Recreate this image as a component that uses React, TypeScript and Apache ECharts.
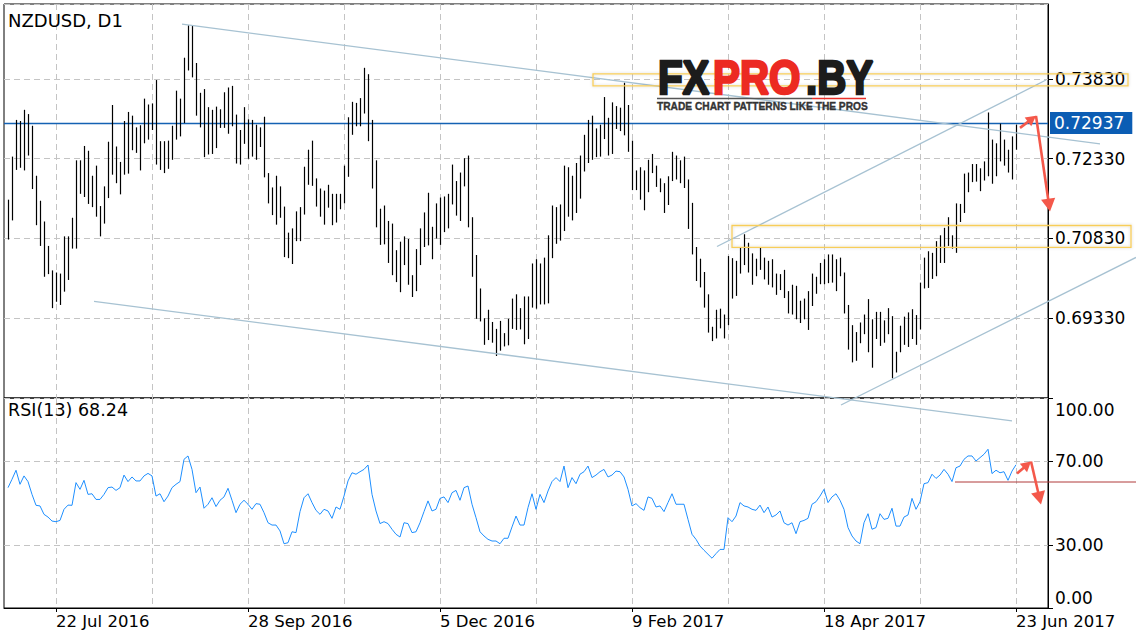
import React, { useEffect, useRef } from 'react';
import * as echarts from 'echarts';

// ---- data (daily bars, high / low) ----
const barHigh = [
  0.7156, 0.7237, 0.7306, 0.7304, 0.7325, 0.7317, 0.7295, 0.7201, 0.7154, 0.7115,
  0.7069, 0.7023, 0.7019, 0.7017, 0.7087, 0.7087, 0.7122, 0.7230, 0.7230, 0.7257,
  0.7248, 0.7201, 0.7220, 0.7144, 0.7181, 0.7265, 0.7334, 0.7256, 0.7227, 0.7304,
  0.7321, 0.7314, 0.7292, 0.7296, 0.7346, 0.7335, 0.7337, 0.7381, 0.7266, 0.7266,
  0.7267, 0.7295, 0.7361, 0.7346, 0.7423, 0.7484, 0.7483, 0.7413, 0.7357, 0.7364,
  0.7330, 0.7325, 0.7331, 0.7326, 0.7358, 0.7367, 0.7370, 0.7316, 0.7287, 0.7330,
  0.7307, 0.7306, 0.7297, 0.7292, 0.7312, 0.7206, 0.7179, 0.7201, 0.7181, 0.7143,
  0.7094, 0.7102, 0.7134, 0.7142, 0.7218, 0.7250, 0.7267, 0.7196, 0.7177, 0.7173,
  0.7184, 0.7167, 0.7167, 0.7167, 0.7220, 0.7311, 0.7340, 0.7338, 0.7347, 0.7404,
  0.7392, 0.7306, 0.7230, 0.7139, 0.7145, 0.7116, 0.7111, 0.7061, 0.7077, 0.7087,
  0.7082, 0.7014, 0.7063, 0.7102, 0.7132, 0.7169, 0.7105, 0.7149, 0.7160, 0.7162,
  0.7167, 0.7222, 0.7191, 0.7207, 0.7234, 0.7239, 0.7123, 0.7052, 0.6989, 0.6933,
  0.6949, 0.6926, 0.6913, 0.6928, 0.6905, 0.6932, 0.6970, 0.6978, 0.6952, 0.6974,
  0.6974, 0.7036, 0.7044, 0.7036, 0.7047, 0.7089, 0.7145, 0.7142, 0.7147, 0.7220,
  0.7217, 0.7201, 0.7225, 0.7239, 0.7278, 0.7306, 0.7314, 0.7290, 0.7297, 0.7349,
  0.7310, 0.7339, 0.7332, 0.7329, 0.7376, 0.7334, 0.7267, 0.7211, 0.7217, 0.7211,
  0.7231, 0.7242, 0.7220, 0.7196, 0.7187, 0.7200, 0.7246, 0.7239, 0.7230, 0.7237,
  0.7194, 0.7150, 0.7067, 0.7045, 0.7020, 0.6978, 0.6917, 0.6949, 0.6951, 0.6940,
  0.7050, 0.7046, 0.7041, 0.7067, 0.7091, 0.7075, 0.7055, 0.7045, 0.7067, 0.7047,
  0.7041, 0.7044, 0.7017, 0.7016, 0.7024, 0.6984, 0.6996, 0.6994, 0.6966, 0.6970,
  0.6984, 0.7017, 0.7011, 0.7037, 0.7044, 0.7053, 0.7053, 0.7044, 0.7047, 0.7019,
  0.6958, 0.6920, 0.6907, 0.6925, 0.6940, 0.6969, 0.6931, 0.6945, 0.6945, 0.6929,
  0.6952, 0.6937, 0.6870, 0.6919, 0.6936, 0.6944, 0.6950, 0.6939, 0.7000, 0.7047,
  0.7059, 0.7056, 0.7078, 0.7089, 0.7103, 0.7123, 0.7089, 0.7149, 0.7148, 0.7205,
  0.7207, 0.7223, 0.7223, 0.7215, 0.7228, 0.7320, 0.7269, 0.7262, 0.7299, 0.7269,
  0.7250, 0.7275, 0.7297,
];
const barLow = [
  0.7081, 0.7117, 0.7212, 0.7216, 0.7211, 0.7239, 0.7176, 0.7108, 0.7069, 0.7011,
  0.7016, 0.6952, 0.6964, 0.6958, 0.6983, 0.7005, 0.7064, 0.7064, 0.7167, 0.7161,
  0.7148, 0.7142, 0.7124, 0.7087, 0.7111, 0.7159, 0.7203, 0.7187, 0.7166, 0.7203,
  0.7205, 0.7249, 0.7244, 0.7211, 0.7262, 0.7269, 0.7287, 0.7222, 0.7212, 0.7206,
  0.7214, 0.7231, 0.7269, 0.7275, 0.7300, 0.7399, 0.7386, 0.7314, 0.7292, 0.7236,
  0.7241, 0.7242, 0.7253, 0.7291, 0.7291, 0.7280, 0.7294, 0.7224, 0.7222, 0.7261,
  0.7233, 0.7237, 0.7231, 0.7255, 0.7198, 0.7149, 0.7127, 0.7109, 0.7122, 0.7048,
  0.7046, 0.7035, 0.7078, 0.7078, 0.7128, 0.7184, 0.7182, 0.7143, 0.7124, 0.7109,
  0.7141, 0.7108, 0.7113, 0.7138, 0.7149, 0.7199, 0.7278, 0.7294, 0.7294, 0.7318,
  0.7266, 0.7177, 0.7104, 0.7071, 0.7072, 0.7037, 0.7014, 0.7001, 0.6982, 0.7033,
  0.6996, 0.6973, 0.6984, 0.7033, 0.7067, 0.7070, 0.7044, 0.7083, 0.7071, 0.7095,
  0.7102, 0.7147, 0.7126, 0.7116, 0.7181, 0.7104, 0.7011, 0.6932, 0.6927, 0.6883,
  0.6892, 0.6887, 0.6862, 0.6872, 0.6880, 0.6882, 0.6913, 0.6911, 0.6912, 0.6884,
  0.6894, 0.6953, 0.6951, 0.6959, 0.6959, 0.6961, 0.7046, 0.7073, 0.7079, 0.7097,
  0.7124, 0.7117, 0.7131, 0.7158, 0.7209, 0.7225, 0.7231, 0.7236, 0.7237, 0.7270,
  0.7239, 0.7242, 0.7289, 0.7285, 0.7277, 0.7246, 0.7174, 0.7174, 0.7156, 0.7136,
  0.7170, 0.7206, 0.7180, 0.7170, 0.7131, 0.7146, 0.7191, 0.7194, 0.7187, 0.7178,
  0.7101, 0.7053, 0.7003, 0.6991, 0.6953, 0.6906, 0.6890, 0.6895, 0.6914, 0.6895,
  0.6920, 0.6970, 0.6975, 0.7017, 0.7033, 0.7019, 0.6996, 0.7012, 0.7024, 0.7006,
  0.6996, 0.6991, 0.6977, 0.6986, 0.6971, 0.6942, 0.6940, 0.6931, 0.6924, 0.6931,
  0.6911, 0.6956, 0.6979, 0.6997, 0.6997, 0.6999, 0.7000, 0.6984, 0.7012, 0.6942,
  0.6874, 0.6850, 0.6853, 0.6886, 0.6903, 0.6869, 0.6840, 0.6894, 0.6881, 0.6887,
  0.6903, 0.6820, 0.6831, 0.6869, 0.6883, 0.6879, 0.6894, 0.6883, 0.6912, 0.6989,
  0.6990, 0.7007, 0.7012, 0.7037, 0.7037, 0.7069, 0.7064, 0.7056, 0.7114, 0.7131,
  0.7170, 0.7189, 0.7190, 0.7172, 0.7192, 0.7200, 0.7186, 0.7200, 0.7228, 0.7220,
  0.7207, 0.7194, 0.7250,
];
const rsi13 = [
  57.3, 61.3, 65.6, 58.9, 62.9, 60.2, 54.1, 48.9, 48.6, 44.6,
  43.3, 41.4, 41.1, 41.7, 47.0, 49.0, 48.9, 59.7, 56.5, 60.8,
  54.1, 54.4, 51.7, 51.7, 54.1, 57.3, 57.6, 56.0, 57.3, 63.3,
  60.2, 62.4, 60.5, 60.5, 62.9, 64.1, 62.9, 53.3, 54.4, 50.6,
  53.3, 57.3, 58.9, 60.2, 70.8, 72.4, 66.0, 54.9, 57.6, 47.5,
  49.4, 52.5, 48.3, 51.3, 52.9, 57.0, 51.3, 45.4, 49.4, 51.3,
  49.4, 47.0, 49.7, 49.4, 45.4, 40.6, 39.5, 39.5, 36.7, 30.6,
  31.1, 36.3, 35.9, 45.9, 52.5, 54.4, 50.2, 46.5, 44.6, 47.0,
  46.2, 42.7, 48.1, 47.0, 53.3, 60.5, 64.4, 63.7, 64.9, 66.0,
  68.1, 54.1, 46.2, 40.2, 41.1, 40.2, 37.5, 35.1, 33.8, 40.6,
  40.2, 35.9, 36.3, 40.6, 45.9, 51.0, 46.2, 47.0, 52.2, 52.9,
  50.2, 54.9, 56.0, 51.3, 57.3, 58.1, 49.4, 43.0, 36.3, 34.3,
  32.7, 31.9, 31.9, 30.6, 33.2, 33.2, 38.6, 43.8, 39.5, 39.5,
  47.8, 54.4, 47.0, 54.1, 50.2, 55.7, 60.2, 62.1, 60.2, 67.6,
  57.3, 62.1, 59.2, 63.7, 64.9, 67.6, 62.1, 63.3, 64.9, 66.0,
  62.4, 63.3, 65.2, 64.9, 62.4, 56.5, 48.6, 49.7, 47.8, 46.5,
  52.9, 52.2, 48.1, 48.6, 45.9, 50.2, 54.4, 49.4, 49.4, 49.4,
  42.2, 35.1, 32.7, 29.5, 27.5, 25.6, 23.7, 25.9, 27.9, 27.9,
  43.0, 41.1, 43.8, 50.2, 48.6, 48.1, 47.0, 46.5, 49.0, 45.4,
  48.1, 43.3, 44.3, 46.2, 40.6, 39.5, 40.6, 35.4, 41.1, 41.7,
  42.7, 49.4, 50.6, 53.3, 56.5, 50.2, 52.9, 54.4, 51.3, 47.0,
  38.3, 34.3, 31.9, 30.6, 40.6, 44.9, 37.5, 38.3, 44.9, 42.2,
  42.7, 47.5, 39.0, 39.0, 43.3, 44.3, 52.2, 47.0, 50.6, 59.2,
  59.7, 63.7, 61.7, 63.3, 66.0, 63.7, 60.2, 66.8, 67.6, 70.8,
  72.4, 72.4, 70.0, 71.6, 73.2, 75.6, 64.0, 65.6, 64.4, 64.9,
  60.8, 65.2, 68.2,
];

const dateTickBars = [12, 60, 108, 156, 204, 252];
const dateTickLabels = ['22 Jul 2016', '28 Sep 2016', '5 Dec 2016', '9 Feb 2017', '18 Apr 2017', '23 Jun 2017'];
const lastPrice = 0.72937;
const lastRsi = 68.24;
const rsiGuideLevels = [30, 70];
const rsiAxisLabels = [0, 30, 70, 100];

// annotations in (bar index, value) space
const channelUpper = [[43.5, 0.74861], [273, 0.72611]];
const channelLower = [[21.5, 0.69649], [251, 0.67399]];
const risingUpper = [[177.25, 0.7068], [259.5, 0.73811]];
const risingLower = [[208.25, 0.67699], [282, 0.70474]];
const zoneTop = [[146.25, 0.73924], [280, 0.73699]];
const zoneLow = [[181, 0.71074], [280.75, 0.70661]];
const priceArrowPath = [[253, 0.72911], [257, 0.73136], [260.5, 0.71336]];
const rsiArrowPath = [[252.25, 64.0], [255.75, 69.8], [258.25, 49.3]];
const rsiSignalLine = [[236.75, 60], [282, 60]];

const FONT = 'DejaVu Sans';
const LOGO_FONT = '"Liberation Sans", Arial, sans-serif';
const SLOTS = barHigh.length + 9;
const GRID_STEP = 24;

export default function App() {
  const ref = useRef<HTMLDivElement>(null);

  useEffect(() => {
    const el = ref.current;
    if (!el) return;
    const chart = echarts.init(el, null, { renderer: 'svg' });
    const cats = Array.from({ length: SLOTS }, (_, k) => String(k));
    const labelAt = new Map<number, string>(dateTickBars.map((b, j) => [b + 1, dateTickLabels[j]]));
    const isGridSlot = (k: number) => k - 1 >= dateTickBars[0] && (k - 1 - dateTickBars[0]) % GRID_STEP === 0;
    const dash = { type: [6, 4] as any, color: '#c4c4c4', width: 1 };

    const option: any = {
      animation: false,
      backgroundColor: '#ffffff',
      grid: [
        { left: 4, top: 4, width: 1044, height: 394, show: true, borderColor: '#000', borderWidth: 1 },
        { left: 4, top: 398, width: 1044, height: 210, show: true, borderColor: '#000', borderWidth: 1 },
      ],
      xAxis: [
        {
          type: 'category', gridIndex: 0, data: cats, boundaryGap: false,
          axisLine: { show: false }, axisTick: { show: false }, axisLabel: { show: false },
          splitLine: { show: true, interval: (idx: number) => isGridSlot(idx), lineStyle: dash },
        },
        {
          type: 'category', gridIndex: 1, data: cats, boundaryGap: false,
          axisLine: { show: true, lineStyle: { color: '#000', width: 1 } },
          axisTick: { show: true, interval: (idx: number) => labelAt.has(idx), length: 4, lineStyle: { color: '#000' } },
          axisLabel: {
            show: true, interval: (idx: number) => labelAt.has(idx),
            formatter: (_v: string, idx: number) => labelAt.get(idx) ?? '',
            align: 'left', margin: 5, fontFamily: FONT, fontSize: 16.5, color: '#000',
          },
          splitLine: { show: true, interval: (idx: number) => isGridSlot(idx), lineStyle: dash },
        },
      ],
      yAxis: [
        {
          type: 'value', gridIndex: 0, position: 'right',
          min: 0.6783, max: 0.7524, interval: 0.015,
          axisLine: { show: true, lineStyle: { color: '#000', width: 1 } },
          axisTick: { show: true, length: 5, lineStyle: { color: '#000' } },
          axisLabel: {
            showMinLabel: false, showMaxLabel: false,
            formatter: (v: number) => v.toFixed(5),
            margin: 7, fontFamily: FONT, fontSize: 17, color: '#000',
          },
          splitLine: { show: true, lineStyle: dash },
        },
        {
          type: 'value', gridIndex: 1, position: 'right', min: 0, max: 100,
          axisLine: { show: true, lineStyle: { color: '#000', width: 1 } },
          axisTick: { show: true, length: 5, customValues: rsiAxisLabels, lineStyle: { color: '#000' } },
          axisLabel: {
            customValues: rsiAxisLabels,
            formatter: (v: number) => (v === 100 ? '{t|100.00}' : v === 0 ? '{b|0.00}' : v.toFixed(2)),
            margin: 7, fontFamily: FONT, fontSize: 17, color: '#000',
            rich: {
              t: { padding: [24, 0, 0, 0], fontFamily: FONT, fontSize: 17, color: '#000' },
              b: { padding: [0, 0, 20, 0], fontFamily: FONT, fontSize: 17, color: '#000' },
            },
          },
          splitLine: { show: false },
        },
      ],
      series: [
        {
          type: 'custom', xAxisIndex: 0, yAxisIndex: 0, z: 5,
          data: barHigh.map((h, i) => [i + 1, barLow[i], h]),
          encode: { x: 0, y: [1, 2] },
          renderItem: (_p: any, api: any) => {
            const lo = api.coord([api.value(0), api.value(1)]);
            const hi = api.coord([api.value(0), api.value(2)]);
            const x = Math.round(lo[0]) + 0.5;
            return { type: 'line', shape: { x1: x, y1: lo[1], x2: x, y2: hi[1] }, style: { stroke: '#000', lineWidth: 1.2 } };
          },
          markLine: {
            silent: true, symbol: ['none', 'none'], animation: false,
            data: [{ yAxis: lastPrice }],
            lineStyle: { color: '#1462b3', width: 1.3, type: 'solid' },
            label: {
              show: true, position: 'end', distance: 2, formatter: lastPrice.toFixed(5),
              backgroundColor: '#0b5db4', color: '#fff', padding: [3, 8, 2, 4],
              fontFamily: FONT, fontSize: 17,
            },
          },
        },
        {
          type: 'line', xAxisIndex: 1, yAxisIndex: 1, z: 5,
          data: rsi13.map((v, i) => [i + 1, v]),
          symbol: 'none', lineStyle: { color: '#1e8fff', width: 1 },
          markLine: {
            silent: true, symbol: ['none', 'none'], animation: false,
            data: rsiGuideLevels.map((v) => ({ yAxis: v })),
            lineStyle: { type: [6, 4], color: '#c4c4c4', width: 1 },
            label: { show: false },
          },
        },
      ],
    };
    chart.setOption(option);

    const px = (grid: number, bar: number, v: number) => {
      const a = chart.convertToPixel({ gridIndex: grid }, [0, v]) as number[];
      const b = chart.convertToPixel({ gridIndex: grid }, [1, v]) as number[];
      return [a[0] + (b[0] - a[0]) * (bar + 1), a[1]];
    };
    const seg = (grid: number, pts: number[][], color: string, w: number) => {
      const p0 = px(grid, pts[0][0], pts[0][1]);
      const p1 = px(grid, pts[1][0], pts[1][1]);
      return { type: 'line', silent: true, z: 50, shape: { x1: p0[0], y1: p0[1], x2: p1[0], y2: p1[1] }, style: { stroke: color, lineWidth: w } };
    };
    const zone = (pts: number[][]) => {
      const p0 = px(0, pts[0][0], pts[0][1]);
      const p1 = px(0, pts[1][0], pts[1][1]);
      return {
        type: 'rect', silent: true, z: 52,
        shape: { x: p0[0], y: p0[1], width: p1[0] - p0[0], height: p1[1] - p0[1] },
        style: { fill: 'none', stroke: '#f7cd5a', lineWidth: 1.3, shadowBlur: 3, shadowColor: 'rgba(0,0,0,0.18)' },
      };
    };
    const arrow = (a: number[], b: number[], color: string, w: number, head: number) => {
      const dx = b[0] - a[0];
      const dy = b[1] - a[1];
      const len = Math.hypot(dx, dy);
      const ux = dx / len;
      const uy = dy / len;
      const bx = b[0] - ux * head;
      const by = b[1] - uy * head;
      const nx = -uy * head * 0.55;
      const ny = ux * head * 0.55;
      return [
        { type: 'line', silent: true, z: 60, shape: { x1: a[0], y1: a[1], x2: bx + ux * 2, y2: by + uy * 2 }, style: { stroke: color, lineWidth: w } },
        { type: 'polygon', silent: true, z: 60, shape: { points: [[b[0], b[1]], [bx + nx, by + ny], [bx - nx, by - ny]] }, style: { fill: color } },
      ];
    };
    const zig = (grid: number, pts: number[][]) => {
      const p = pts.map((q) => px(grid, q[0], q[1]));
      return [...arrow(p[0], p[1], '#f4584a', 2.6, 10), ...arrow(p[1], p[2], '#f4584a', 2.6, 13)];
    };
    const logoText = (text: string, x: number, color: string) => ({
      type: 'text', silent: true, z: 55, x, y: 77, scaleX: 0.84,
      style: {
        text, fontFamily: LOGO_FONT, fontWeight: 'bold', fontSize: 48,
        fill: color, stroke: color, lineWidth: 2.6, align: 'left', verticalAlign: 'middle',
      },
    });

    const trendColor = '#a7c2d2';
    const elements: any[] = [
      seg(0, channelUpper, trendColor, 1.3),
      seg(0, channelLower, trendColor, 1.3),
      seg(0, risingUpper, trendColor, 1.3),
      seg(0, risingLower, trendColor, 1.3),
      zone(zoneTop),
      zone(zoneLow),
      logoText('FX', 658, '#1c1c1c'),
      logoText('PRO', 713, '#ec2a22'),
      logoText('.BY', 806, '#1c1c1c'),
      { type: 'line', silent: true, z: 55, shape: { x1: 657, y1: 98.5, x2: 812, y2: 98.5 }, style: { stroke: '#555', lineWidth: 1.5 } },
      { type: 'line', silent: true, z: 55, shape: { x1: 812, y1: 98.5, x2: 866, y2: 98.5 }, style: { stroke: '#e8302a', lineWidth: 1.5 } },
      {
        type: 'text', silent: true, z: 55, x: 657, y: 106,
        style: {
          text: 'TRADE CHART PATTERNS LIKE THE PROS', fontFamily: LOGO_FONT, fontWeight: 'bold', fontSize: 10.2,
          fill: '#333', stroke: '#333', lineWidth: 0.35, align: 'left', verticalAlign: 'middle',
        },
      },
      ...zig(0, priceArrowPath),
      seg(1, rsiSignalLine, '#b03a3a', 1),
      ...zig(1, rsiArrowPath),
      {
        type: 'text', silent: true, z: 70, x: 8, y: 20,
        style: { text: 'NZDUSD, D1', fontFamily: FONT, fontSize: 18, fill: '#000', align: 'left', verticalAlign: 'middle' },
      },
      {
        type: 'text', silent: true, z: 70, x: 8, y: 410,
        style: { text: `RSI(13) ${lastRsi.toFixed(2)}`, fontFamily: FONT, fontSize: 17.5, fill: '#000', align: 'left', verticalAlign: 'middle' },
      },
    ];
    chart.setOption({ graphic: { elements } });

    return () => chart.dispose();
  }, []);

  return <div ref={ref} style={{ position: 'absolute', left: 0, top: 0, width: 1136, height: 640 }} />;
}
